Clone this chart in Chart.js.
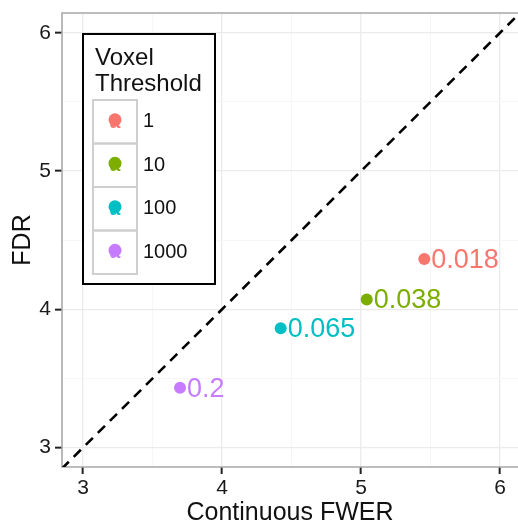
<!DOCTYPE html>
<html><head><meta charset="utf-8">
<script src="https://cdn.jsdelivr.net/npm/chart.js@4/dist/chart.umd.min.js"></script>
<style>html,body{margin:0;padding:0;background:#fff;overflow:hidden}#wrap{width:518px;height:526px;position:relative}</style>
</head><body><div id="wrap"><canvas id="c"></canvas></div>
<script>
const thresholds = ['1', '10', '100', '1000'];
const fwerValues = [5.455, 5.041, 4.422, 3.698];
const fdrValues = [4.364, 4.072, 3.863, 3.433];
const pointLabels = ['0.018', '0.038', '0.065', '0.2'];
const seriesColors = ['#F8766D', '#7CAE00', '#00BFC4', '#C77CFF'];
const tickValues = [3, 3.5, 4, 4.5, 5, 5.5, 6];
const identityLine = [2.5, 6.5];
const xTitle = 'Continuous FWER';
const yTitle = 'FDR';
const legendTitle = ['Voxel', 'Threshold'];
const xRange = [2.849, 6.129];
const yRange = [2.860, 6.143];

const FONT = "'Liberation Sans', Arial, sans-serif";
const isMajor = v => Math.abs(v - Math.round(v)) < 1e-9;

const datasets = thresholds.map((t, i) => ({
  type: 'scatter',
  label: t,
  data: [{x: fwerValues[i], y: fdrValues[i]}],
  backgroundColor: seriesColors[i],
  borderColor: seriesColors[i],
  pointRadius: 6,
  pointHoverRadius: 6,
  borderWidth: 0
}));
datasets.unshift({
  type: 'line',
  label: 'identity',
  data: identityLine.map(v => ({x: v, y: v})),
  borderColor: '#000',
  borderWidth: 2.6,
  borderDash: [10, 7],
  pointRadius: 0,
  fill: false,
  clip: 0
});

const panelPlugin = {
  id: 'panel',
  beforeDatasetsDraw(chart) {
    const {ctx, chartArea: a} = chart;
    ctx.save();
    ctx.strokeStyle = '#a8a8a8';
    ctx.lineWidth = 1.6;
    ctx.beginPath();
    ctx.moveTo(a.right + 5, a.top); ctx.lineTo(a.left, a.top);
    ctx.lineTo(a.left, a.bottom); ctx.lineTo(a.right + 5, a.bottom);
    ctx.stroke();
    ctx.restore();
  }
};

const labelPlugin = {
  id: 'pointLabels',
  afterDatasetsDraw(chart) {
    const {ctx, scales: {x, y}} = chart;
    ctx.save();
    ctx.font = '27px ' + FONT;
    ctx.textAlign = 'left';
    ctx.textBaseline = 'middle';
    pointLabels.forEach((lab, i) => {
      ctx.fillStyle = seriesColors[i];
      ctx.fillText(lab, x.getPixelForValue(fwerValues[i]) + 7, y.getPixelForValue(fdrValues[i]) + 1.5);
    });
    ctx.restore();
  }
};

const legendPlugin = {
  id: 'ggLegend',
  afterDraw(chart) {
    const {ctx, chartArea: a} = chart;
    const L = a.left + 21, T = a.top + 21, W = 132, H = 250;
    ctx.save();
    ctx.fillStyle = '#fff';
    ctx.fillRect(L, T, W, H);
    ctx.strokeStyle = '#000';
    ctx.lineWidth = 2;
    ctx.strokeRect(L, T, W, H);
    ctx.fillStyle = '#111';
    ctx.font = '24px ' + FONT;
    ctx.textAlign = 'left';
    ctx.textBaseline = 'alphabetic';
    ctx.fillText(legendTitle[0], L + 12, T + 31);
    ctx.fillText(legendTitle[1], L + 12, T + 57);
    const rowH = 43.5, kx = L + 10, kw = 44, top0 = T + 66;
    thresholds.forEach((t, i) => {
      const rt = top0 + i * rowH;
      ctx.strokeStyle = '#cfcfcf';
      ctx.lineWidth = 2;
      ctx.strokeRect(kx, rt, kw, rowH);
      const cx = kx + kw / 2, cy = rt + rowH / 2;
      ctx.fillStyle = seriesColors[i];
      ctx.beginPath();
      ctx.arc(cx, cy - 2, 6.5, 0, Math.PI * 2);
      ctx.fill();
      ctx.font = 'bold 19px ' + FONT;
      ctx.textAlign = 'center';
      ctx.textBaseline = 'middle';
      ctx.fillText('a', cx, cy + 1);
      ctx.fillStyle = '#111';
      ctx.font = '20px ' + FONT;
      ctx.textAlign = 'left';
      ctx.fillText(t, kx + kw + 6, cy);
    });
    ctx.restore();
  }
};

function axisCfg(range, isX) {
  return {
    type: 'linear',
    min: range[0],
    max: range[1],
    afterBuildTicks: s => { s.ticks = tickValues.map(v => ({value: v})); },
    afterFit: s => {
      if (isX) { s.height = 59; s.paddingLeft = 0; s.paddingRight = 0; }
      else { s.width = 62; s.paddingTop = 0; s.paddingBottom = 0; }
    },
    ticks: {
      autoSkip: false,
      maxRotation: 0,
      padding: isX ? 2 : 4,
      color: '#1a1a1a',
      font: {family: FONT, size: 21},
      callback: v => isMajor(v) ? String(v) : ''
    },
    grid: {
      color: c => isMajor(c.tick.value) ? '#ebebeb' : '#f5f5f5',
      lineWidth: c => isMajor(c.tick.value) ? 1.3 : 0.9,
      tickLength: 7,
      tickColor: c => isMajor(c.tick.value) ? '#222' : 'rgba(0,0,0,0)',
      tickWidth: 2
    },
    border: {display: false},
    title: {
      display: true,
      text: isX ? xTitle : yTitle,
      color: '#111',
      font: {family: FONT, size: 25, lineHeight: 1},
      padding: isX ? {top: 0, bottom: 0} : {top: 11, bottom: 0}
    }
  };
}

new Chart(document.getElementById('c'), {
  data: {datasets},
  options: {
    responsive: true,
    maintainAspectRatio: false,
    animation: false,
    events: [],
    layout: {autoPadding: false, padding: {top: 13, right: 0, left: 0, bottom: 0}},
    plugins: {legend: {display: false}, tooltip: {enabled: false}},
    scales: {x: axisCfg(xRange, true), y: axisCfg(yRange, false)}
  },
  plugins: [panelPlugin, labelPlugin, legendPlugin]
});
</script>
</body></html>
